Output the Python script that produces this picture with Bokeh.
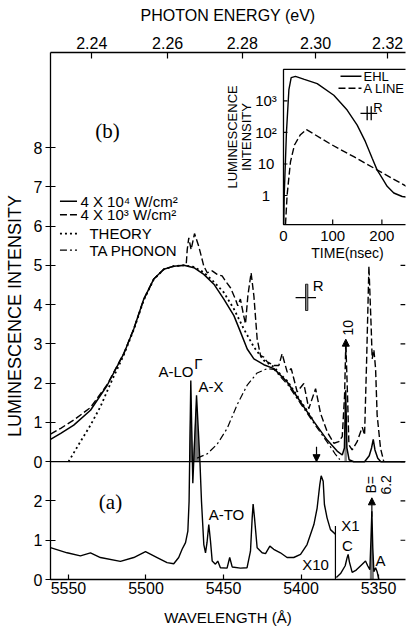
import numpy as np
from bokeh.plotting import figure
from bokeh.models import (Range1d, LinearAxis, FixedTicker, Span, Arrow, NormalHead, LogScale)
from bokeh.embed import file_html
from bokeh.resources import INLINE
from bokeh.core.properties import value

# ---------------- data ----------------
HC = 12398.4                     # eV*Angstrom
energy_ticks = [2.24, 2.26, 2.28, 2.30, 2.32]
wl_ticks = [5550, 5500, 5450, 5400, 5350]
upper_ticks = [0, 1, 2, 3, 4, 5, 6, 7, 8]
lower_ticks = [0, 1, 2]
OFFSET = 3.0                     # upper-panel zero sits at 3 lower-panel units

# (b) 4x10^4 W/cm^2  (solid)
hi_wl = [5561.6, 5555, 5546.6, 5535.8, 5525.1, 5514.3, 5507.9, 5501.4, 5495, 5488.5, 5482,
         5475.6, 5469.1, 5462.7, 5456.2, 5449.8, 5443.3, 5439, 5434.7, 5430.4, 5424, 5417.5,
         5408.9, 5400.3, 5391.7, 5383.1, 5376.7, 5373.4, 5372.0, 5371.2, 5370.4, 5369.0,
         5366, 5359, 5356, 5354.5, 5353.4, 5352.3, 5350.5, 5348.5, 5333]
hi_val = [0.57, 0.72, 0.93, 1.31, 1.94, 2.75, 3.38, 4.14, 4.65, 4.90, 4.98,
          5.00, 4.94, 4.77, 4.52, 4.14, 3.72, 3.30, 2.87, 2.62, 2.47, 2.37,
          2.03, 1.52, 1.02, 0.55, 0.27, 0.17, 0.35, 1.82, 0.35, 0.05,
          0.0, 0.0, 0.15, 0.35, 0.57, 0.30, 0.09, 0.0, 0.0]

# (b) 4x10^3 W/cm^2  (dashed)
lo_wl = [5561.6, 5555, 5546.6, 5535.8, 5525.1, 5514.3, 5507.9, 5501.4, 5495, 5488.5, 5482,
         5475.6, 5474, 5473.4, 5472.4, 5470.9, 5468.7, 5466, 5462.7, 5460.5, 5457.3, 5454.1,
         5450.9, 5448.7, 5445.5, 5442.3, 5440.8, 5439.1, 5437.0, 5435.8, 5434.3, 5432.2,
         5430.4, 5428.3, 5426.1, 5424, 5421.8, 5417.5, 5414.3, 5412.2, 5408.9, 5406.3,
         5402.5, 5398.2, 5395, 5390.6, 5387.4, 5383.1, 5378.8, 5375.6, 5373.4, 5371.9,
         5371.1, 5370, 5369.1, 5367, 5363.8, 5360.5, 5359, 5357.7, 5356.2, 5354.7, 5354.1,
         5353, 5351.9, 5350.9, 5348.7, 5346.6]
lo_val = [0.70, 0.85, 1.06, 1.38, 1.96, 2.76, 3.38, 4.14, 4.65, 4.90, 4.98,
          5.00, 5.05, 5.4, 5.7, 5.4, 5.81, 5.49, 4.98, 4.81, 4.86, 4.77,
          4.73, 4.60, 4.43, 4.14, 3.97, 4.14, 3.72, 3.51, 4.22, 4.81,
          4.22, 3.13, 2.70, 2.66, 2.54, 2.45, 2.45, 2.75, 2.28, 2.37,
          1.78, 1.99, 1.35, 1.86, 1.23, 0.76, 0.47, 0.51, 0.64, 1.69,
          3.04, 1.69, 0.43, 0.30, 0.51, 0.88, 0.68, 2.54, 4.98, 3.38, 2.62,
          2.85, 2.37, 1.19, 0.34, 0.0]

# (b) theory (dotted)
th_wl = [5550, 5542.3, 5535.8, 5529.4, 5522.9, 5514.3, 5507.9, 5501.4, 5495, 5488.5, 5482,
         5475.6, 5469.1, 5462.7, 5456.2, 5449.8, 5443.3, 5436.9, 5430.4, 5424, 5417.5,
         5413.2, 5408.9, 5400.3, 5391.7]
th_val = [0.0, 0.51, 0.93, 1.40, 1.99, 2.72, 3.36, 4.12, 4.64, 4.90, 4.98,
          5.00, 4.96, 4.82, 4.58, 4.31, 3.89, 3.38, 2.92, 2.58, 2.41,
          2.22, 2.06, 1.55, 1.03]

# (b) TA phonon (dash-dot)
ta_wl = [5467, 5460.5, 5454, 5447.6, 5441.2, 5434.7, 5428.3, 5421.8, 5417.5, 5413.2,
         5408.9, 5400.3, 5391.7, 5383.1, 5378, 5375]
ta_val = [0.09, 0.20, 0.45, 0.85, 1.45, 1.95, 2.26, 2.37, 2.35, 2.16,
          1.98, 1.48, 0.98, 0.50, 0.20, 0.05]

# (a) low-power spectrum, x10 part
a_wl = [5561.6, 5550.9, 5542.3, 5535.8, 5529.4, 5516.5, 5507.9, 5500.3, 5492.8, 5486.4,
        5482.1, 5478.9, 5476.7, 5474.5, 5473.0, 5472.2, 5471.1, 5469.8, 5467.4,
        5465.2, 5464.2, 5462.7, 5461.6, 5460.6, 5459.5, 5458.4, 5457.3, 5455.2, 5453.7,
        5452.0, 5447.7, 5446.0, 5444.4, 5439.1, 5434.8, 5432.6, 5431.5, 5430.9, 5430.0,
        5428.3, 5425.1, 5422.9, 5420.1, 5417.6, 5413.3, 5409.0, 5404.7, 5400.3, 5396.1,
        5391.7, 5389.6, 5387.9, 5387.0, 5385.7, 5384.9, 5383.2, 5381.0, 5377.8]
a_val = [0.81, 0.68, 0.60, 0.68, 0.56, 0.46, 0.56, 0.71, 0.56, 0.43,
         0.40, 0.56, 0.77, 0.94, 1.23, 1.99, 5.07, 2.45, 4.69,
         3.0, 1.99, 0.89, 0.68, 0.95, 1.40, 0.98, 0.47, 0.39, 0.47,
         0.30, 0.29, 0.56, 0.32, 0.29, 0.30, 0.72, 1.57, 1.92, 1.57,
         0.81, 0.68, 0.66, 0.85, 0.77, 0.68, 0.56, 0.56, 0.64, 0.89,
         1.40, 1.82, 2.41, 2.64, 2.50, 1.91, 1.57, 1.27, 1.15]

# (a) x1 part
b_wl = [5377.2, 5374.5, 5371.5, 5370.3, 5369.6, 5368.8, 5367.0, 5364.4, 5361.0, 5358.4,
        5357.0, 5355.6, 5354.9, 5354.3, 5353.7, 5353.0, 5351.9, 5350.9, 5349.8]
b_val = [0.05, 0.15, 0.35, 0.55, 0.64, 0.45, 0.18, 0.24, 0.37, 0.47,
         0.35, 0.25, 1.0, 1.74, 0.8, 0.20, 0.30, 0.20, 0.0]
x_split = 5377.8                 # boundary between x10 and x1 parts

# inset: decay curves (time in ns, intensity)
ehl_t = [0.5, 1.5, 6, 11, 15.6, 24.4, 42.3, 68.5, 102.3, 129.4, 149.8, 166.5, 180.3, 190.2,
         200.6, 210.7, 224.2, 241.3, 250]
ehl_i = [0.12, 1.05, 100, 2300, 5500, 6000, 4800, 3550, 1510, 513, 170, 51, 15.1, 6.5,
         3.55, 1.95, 1.2, 0.93, 0.89]
aline_t = [4.1, 7.4, 14.2, 22.3, 34.4, 46.8, 96.5, 142.9, 190.2, 250]
aline_i = [0.12, 1.05, 11.7, 40, 85, 123, 42, 17, 6.5, 1.95]
inset_yticks = [1, 10, 100, 1000]
inset_ylabels = ["1", "10", "10²", "10³"]
inset_xticks = [0, 100, 200]
INSET_BOTTOM, INSET_TOP = 0.12, 1.0e4

FONT = "Liberation Sans"
BLACK = "black"
DOT = "2 3"
DASH = "7 3"
DASHDOT = "7 3 2 3"

# ---------------- figure ----------------
p = figure(width=406, height=628, x_range=Range1d(5561.6, 5332.6), y_range=Range1d(0, 13.42),
           output_backend="svg", toolbar_location=None,
           min_border_left=50, min_border_right=1, min_border_top=52, min_border_bottom=46)
p.grid.visible = False
p.outline_line_color = None
p.background_fill_color = "white"

p.extra_x_ranges = {"inset": Range1d(-473.6, 248.0)}
p.extra_y_ranges = {"inset": Range1d(10 ** -12.18, 10 ** 4.536)}
p.extra_y_scales = {"inset": LogScale()}


def style(ax, tin, tout):
    ax.axis_line_color = BLACK
    ax.axis_line_width = 1.3
    ax.major_tick_line_color = BLACK
    ax.major_tick_line_width = 1.2
    ax.major_tick_in = tin
    ax.major_tick_out = tout
    ax.minor_tick_line_color = None
    ax.major_label_text_font = FONT
    ax.major_label_text_font_size = "16px"
    ax.major_label_text_color = BLACK
    ax.axis_label_text_font = FONT
    ax.axis_label_text_font_size = "15px"
    ax.axis_label_text_font_style = "normal"
    ax.axis_label_text_color = BLACK


xa = p.xaxis[0]
xa.ticker = FixedTicker(ticks=wl_ticks)
xa.axis_label = "WAVELENGTH (Å)"
style(xa, 5, 0)
xa.major_label_standoff = 2
xa.axis_label_standoff = 12

ya = p.yaxis[0]
y_tick_pos = list(lower_ticks) + [t + OFFSET for t in upper_ticks]
y_tick_lab = [str(t) for t in lower_ticks] + [str(t) for t in upper_ticks]
ya.ticker = FixedTicker(ticks=y_tick_pos)
ya.major_label_overrides = {pos: lab for pos, lab in zip(y_tick_pos, y_tick_lab)}
ya.axis_label = "LUMINESCENCE INTENSITY"
style(ya, 5, 5)
ya.axis_label_text_font_size = "18px"
ya.major_label_standoff = 3
ya.axis_label_standoff = 6

wl_top = [round(HC / e, 3) for e in energy_ticks]
top = LinearAxis(ticker=FixedTicker(ticks=wl_top),
                 major_label_overrides={w: f"{e:.2f}" for w, e in zip(wl_top, energy_ticks)},
                 axis_label="PHOTON ENERGY (eV)")
style(top, 6, 0)
top.axis_label_text_font_size = "16px"
top.major_label_standoff = 4
top.axis_label_standoff = 10
p.add_layout(top, "above")

# right-edge ticks (inward)
x_end = p.x_range.end
rt = [v for v in y_tick_pos if 0 < v < 9]
p.segment(x0=[x_end] * len(rt), x1=[x_end + 3.2] * len(rt), y0=rt, y1=rt, line_color=BLACK, line_width=1.2)

# upper-panel zero line
p.add_layout(Span(location=OFFSET, dimension="width", line_color=BLACK, line_width=1.2))

# ---- lower panel (a) ----
a_arr = np.array(a_val)
p.varea(x=a_wl, y1=OFFSET, y2=np.maximum(a_arr, OFFSET), fill_color="#777777")
p.line(a_wl, a_val, line_color=BLACK, line_width=1.4)
sel = [i for i, w in enumerate(b_wl) if 5355.6 >= w >= 5353.0]
p.varea(x=[b_wl[i] for i in sel], y1=0, y2=[b_val[i] for i in sel], fill_color="#777777")
p.line(b_wl, b_val, line_color=BLACK, line_width=1.4)
p.segment(x0=[x_split], x1=[x_split], y0=[0], y1=[1.36], line_color=BLACK, line_width=1.2)

# ---- upper panel (b) ----
hi_arr = np.array(hi_val) + OFFSET
sel = [i for i, w in enumerate(hi_wl) if 5372.2 >= w >= 5370.2]
p.varea(x=[hi_wl[i] for i in sel], y1=OFFSET, y2=[hi_arr[i] for i in sel], fill_color="#888888")
p.line(hi_wl, hi_arr, line_color=BLACK, line_width=1.5)
p.line(lo_wl, np.array(lo_val) + OFFSET, line_color=BLACK, line_width=1.4, line_dash=DASH)
p.line(th_wl, np.array(th_val) + OFFSET, line_color=BLACK, line_width=1.8, line_dash=DOT)
p.line(ta_wl, np.array(ta_val) + OFFSET, line_color=BLACK, line_width=1.2, line_dash=DASHDOT)

# legend (manual)
leg_y = [9.63, 9.29, 8.81, 8.39]
leg_dash = ["solid", DASH, DOT, DASHDOT]
leg_w = [1.5, 1.4, 1.8, 1.2]
leg_text = ["4 X 10⁴ W/cm²", "4 X 10³ W/cm²", "THEORY", "TA PHONON"]
leg_tx = [5542.3, 5542.3, 5536.5, 5536.5]
for yy, d, w in zip(leg_y, leg_dash, leg_w):
    p.line([5555.5, 5544.5], [yy, yy], line_color=BLACK, line_width=w, line_dash=d)
p.text(x=leg_tx, y=leg_y, text=leg_text, text_font=value(FONT), text_font_size="15px",
       text_baseline="middle", text_align="left", text_color=BLACK)


# annotations
def label(x, y, t, size="15px", align="center", angle=0.0, font=FONT, lh=1.0):
    p.text(x=[x], y=[y], text=[t], text_font=value(font), text_font_size=size, text_align=align,
           text_baseline="middle", angle=angle, text_color=BLACK, text_line_height=lh)


label(5524.8, 11.42, "(b)", size="21px", font="Liberation Serif")
label(5522.9, 1.97, "(a)", size="21px", font="Liberation Serif")
label(5469.4, 5.29, "A-LO", align="right")
label(5468.9, 5.50, "Γ", align="left")
label(5466.1, 4.91, "A-X", align="left")
label(5448.1, 1.65, "A-TO")
label(5390.6, 0.38, "X10")
label(5368.1, 1.37, "X1")
label(5370.0, 0.86, "C")
label(5348.7, 0.48, "A")
label(5350.0, 2.41, "B=\n6.2", size="14px", angle=np.pi / 2, lh=0.95)
label(5370.0, 6.41, "10", size="14px", angle=np.pi / 2)
label(5388.9, 7.49, "R", size="15px")

# resolution marker (b)
p.segment(x0=[5403.5], x1=[5390.3], y0=[7.18], y1=[7.18], line_color=BLACK, line_width=1.2)
p.quad(left=[5397.1], right=[5395.6], bottom=[6.85], top=[7.52], fill_color="#888888",
       line_color=BLACK, line_width=0.8)

# arrows
head = dict(size=7, fill_color=BLACK, line_color=BLACK)
p.add_layout(Arrow(end=NormalHead(**head), x_start=5371.1, y_start=OFFSET + 2.7,
                   x_end=5371.1, y_end=OFFSET + 3.12, line_color=BLACK, line_width=1.2))
p.add_layout(Arrow(end=NormalHead(**head), x_start=5390.0, y_start=OFFSET + 0.38,
                   x_end=5390.0, y_end=OFFSET, line_color=BLACK, line_width=1.2))
p.add_layout(Arrow(end=NormalHead(**head), x_start=5354.3, y_start=1.6,
                   x_end=5354.3, y_end=2.08, line_color=BLACK, line_width=1.2))

# ---------------- inset ----------------
R = dict(x_range_name="inset", y_range_name="inset")
p.quad(left=[0], right=[2000], bottom=[INSET_BOTTOM], top=[INSET_TOP], fill_color="white",
       line_color=BLACK, line_width=1.3, **R)
p.line(ehl_t, ehl_i, line_color=BLACK, line_width=1.4, **R)
p.line(aline_t, aline_i, line_color=BLACK, line_width=1.4, line_dash=DASH, **R)
# inset ticks
p.segment(x0=[0] * 4, x1=[8] * 4, y0=inset_yticks, y1=inset_yticks, line_color=BLACK, line_width=1.2, **R)
p.segment(x0=inset_xticks[1:], x1=inset_xticks[1:], y0=[INSET_BOTTOM] * 2, y1=[INSET_BOTTOM * 1.45] * 2,
          line_color=BLACK, line_width=1.2, **R)
p.text(x=[-35.6] * 4, y=inset_yticks, text=inset_ylabels, text_font=value(FONT), text_font_size="15px",
       text_align="center", text_baseline="middle", text_color=BLACK, **R)
p.text(x=inset_xticks, y=[0.051] * 3, text=[str(t) for t in inset_xticks], text_font=value(FONT),
       text_font_size="15px", text_align="center", text_baseline="middle", text_color=BLACK, **R)
p.text(x=[130], y=[0.0155], text=["TIME(nsec)"], text_font=value(FONT), text_font_size="14px",
       text_align="center", text_baseline="middle", text_color=BLACK, **R)
p.text(x=[-89.4], y=[72], text=["LUMINESCENCE\nINTENSITY"], text_font=value(FONT), text_font_size="13px",
       text_align="center", text_baseline="middle", angle=np.pi / 2, text_line_height=0.95,
       text_color=BLACK, **R)
# inset legend
p.line([115.9, 158.5], [6030, 6030], line_color=BLACK, line_width=1.4, **R)
p.line([111.8, 158.5], [2510, 2510], line_color=BLACK, line_width=1.4, line_dash=DASH, **R)
p.text(x=[162.6, 162.6], y=[6030, 2510], text=["EHL", "A LINE"], text_font=value(FONT), text_font_size="13px",
       text_align="left", text_baseline="middle", text_color=BLACK, **R)
# inset resolution marker
p.segment(x0=[156.5], x1=[190.4], y0=[400], y1=[400], line_color=BLACK, line_width=1.2, **R)
p.segment(x0=[170.1, 178.3], x1=[170.1, 178.3], y0=[245, 245], y1=[680, 680], line_color=BLACK,
          line_width=1.3, **R)
p.text(x=[182.3], y=[640], text=["R"], text_font=value(FONT), text_font_size="13px",
       text_align="left", text_baseline="middle", text_color=BLACK, **R)

open("out.html", "w").write(file_html(p, INLINE))
